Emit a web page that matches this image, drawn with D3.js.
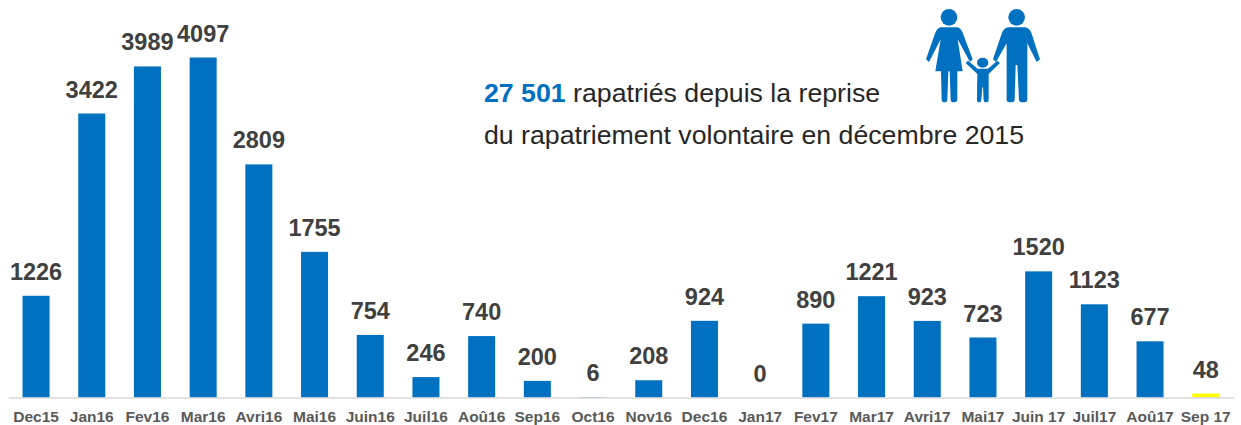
<!DOCTYPE html>
<html>
<head>
<meta charset="utf-8">
<style>
    html, body { margin: 0; padding: 0; background: #fff; }
    text { font-family: "Liberation Sans", Arial, sans-serif; }
    svg { display: block; }
    .tick line { display: none; }
</style>
<script src="https://d3js.org/d3.v7.min.js"></script>
</head>
<body>
<script>
    var months = ["Dec15", "Jan16", "Fev16", "Mar16", "Avri16", "Mai16", "Juin16", "Juil16", "Aoû16", "Sep16", "Oct16",
        "Nov16", "Dec16", "Jan17", "Fev17", "Mar17", "Avri17", "Mai17", "Juin 17", "Juil17", "Aoû17", "Sep 17"];
    var returnees = [1226, 3422, 3989, 4097, 2809, 1755, 754, 246, 740, 200, 6,
        208, 924, 0, 890, 1221, 923, 723, 1520, 1123, 677, 48];

    const xSize = 1241; const ySize = 425;
    const baseline = 397.5;
    const blue = "#0070c0";

    const svg = d3.select("body")
        .append("svg")
        .attr("width", xSize)
        .attr("height", ySize);

    var x = d3.scaleBand().domain(months).range([8.2, 1233.6]).paddingInner(0.515).paddingOuter(0.2575);
    var y = d3.scaleLinear().domain([0, 4097]).range([baseline, 57.5]);

    // Bars, last month is the current one so it is yellow
    svg.selectAll("rect.bar")
        .data(returnees)
        .enter()
        .append("rect")
        .attr("class", "bar")
        .attr("x", function (d, i) { return x(months[i]); })
        .attr("y", function (d) { return y(d); })
        .attr("width", x.bandwidth())
        .attr("height", function (d) { return baseline - y(d); })
        .attr("fill", function (d, i) { return i == months.length - 1 ? "#ffff00" : blue; });

    // Value labels
    svg.selectAll("text.value")
        .data(returnees)
        .enter()
        .append("text")
        .attr("class", "value")
        .attr("x", function (d, i) { return x(months[i]) + x.bandwidth() / 2; })
        .attr("y", function (d) { return y(d) - 16; })
        .attr("text-anchor", "middle")
        .attr("font-size", 23.5)
        .attr("font-weight", "bold")
        .attr("fill", "#404040")
        .text(function (d) { return d; });

    // Axis
    const axis = svg.append("g")
        .attr("transform", "translate(0," + baseline + ")")
        .call(d3.axisBottom(x).tickSize(0).tickPadding(13.5));
    axis.select(".domain").attr("stroke", "#d9d9d9").attr("stroke-width", 1.5);
    axis.selectAll(".tick text")
        .attr("font-size", 15.5)
        .attr("font-weight", "bold")
        .attr("fill", "#595959")
        .style("font-family", "'Liberation Sans', Arial, sans-serif");

    // Headline
    const note = svg.append("g").attr("font-size", 26.7).attr("fill", "#262626");
    const line1 = note.append("text").attr("x", 484).attr("y", 102);
    line1.append("tspan").attr("font-weight", "bold").attr("fill", blue).text("27 501");
    line1.append("tspan").text(" rapatriés depuis la reprise");
    note.append("text").attr("x", 484).attr("y", 144).text("du rapatriement volontaire en décembre 2015");

    const icon = svg.append("g").attr("transform", "translate(900,0) scale(0.3333)").attr("fill", blue);
    icon.append("circle").attr("cx", 147).attr("cy", 52).attr("r", 25);
    icon.append("circle").attr("cx", 350).attr("cy", 52).attr("r", 25);
    icon.append("ellipse").attr("cx", 248).attr("cy", 188).attr("rx", 17).attr("ry", 15);
    // woman
    icon.append("path").attr("d", "M122,82 L172,82 Q182,84 188,98 L218,178 L210,186 L173,118 L188,214 L172,214 L172,300 Q170,307 164,307 L158,307 Q153,307 152,300 L149,214 L145,214 L142,300 Q141,307 136,307 L131,307 Q126,307 125,300 L123,214 L106,214 L122,118 L87,186 L78,178 L106,98 Q112,84 122,82 Z");
    // man
    icon.append("path").attr("d", "M325,82 L375,82 Q388,84 394,98 L420,178 L410,186 L382,130 L382,300 Q381,307 374,307 L365,307 Q358,307 357,300 L352,195 L347,195 L344,300 Q343,307 336,307 L327,307 Q321,307 320,300 L320,130 L288,186 L279,178 L306,98 Q312,84 325,82 Z");
    // child
    icon.append("path").attr("d", "M204,182 L233,206 L264,206 L292,182 L300,189 L266,222 L266,300 Q265,307 261,307 L256,307 Q252,307 251,300 L249,262 L247,262 L244,300 Q243,307 239,307 L235,307 Q231,307 231,300 L232,222 L197,189 Z");
</script>
</body>
</html>
